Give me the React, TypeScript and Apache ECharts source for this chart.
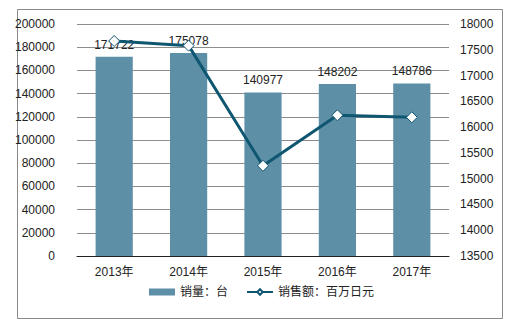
import React, { useEffect, useRef } from "react";
import * as echarts from "echarts";

const categories = ["2013年", "2014年", "2015年", "2016年", "2017年"];
const salesVolume = [171722, 175078, 140977, 148202, 148786];
const salesAmount = [17670, 17580, 15250, 16230, 16190];
const volumeName = "销量：台";
const amountName = "销售额：百万日元";

const FONT = "'Liberation Sans', Arial, 'Noto Sans CJK SC', sans-serif";

export default function App() {
  const ref = useRef<HTMLDivElement>(null);
  useEffect(() => {
    if (!ref.current) return;
    const chart = echarts.init(ref.current, null, { renderer: "svg" });
    chart.setOption({
      animation: false,
      backgroundColor: "#ffffff",
      textStyle: { fontFamily: FONT },
      graphic: [
        {
          type: "rect",
          shape: { x: 17.5, y: 9.5, width: 485, height: 309 },
          style: { fill: "none", stroke: "#8a8a8a", lineWidth: 1 },
          silent: true,
        },
      ],
      grid: { left: 77, right: 73, top: 24, bottom: 73, containLabel: false },
      legend: {
        bottom: 26,
        left: 144,
        itemGap: 18,
        itemWidth: 26,
        itemHeight: 7,
        textStyle: { fontSize: 12, color: "#222", fontFamily: FONT },
        data: [
          { name: volumeName, icon: "rect" },
          { name: amountName },
        ],
      },
      xAxis: {
        type: "category",
        data: categories,
        axisLine: { lineStyle: { color: "#222", width: 1 } },
        axisTick: { show: false },
        axisLabel: { color: "#222", fontSize: 12, margin: 10, fontFamily: FONT },
      },
      yAxis: [
        {
          type: "value",
          min: 0,
          max: 200000,
          interval: 20000,
          axisLine: { show: false },
          axisTick: { show: false },
          splitLine: { lineStyle: { color: "#8c8c8c", width: 1 } },
          axisLabel: {
            color: "#222",
            fontSize: 12,
            margin: 22,
            fontFamily: FONT,
            formatter: (v: number) => String(v),
          },
        },
        {
          type: "value",
          min: 13500,
          max: 18000,
          interval: 500,
          axisLine: { show: false },
          axisTick: { show: false },
          splitLine: { show: false },
          axisLabel: {
            color: "#222",
            fontSize: 12,
            margin: 11,
            fontFamily: FONT,
            formatter: (v: number) => String(v),
          },
        },
      ],
      series: [
        {
          name: volumeName,
          type: "bar",
          data: salesVolume,
          barWidth: "50%",
          itemStyle: { color: "#5D8FA7" },
          label: {
            show: true,
            position: "top",
            distance: 6,
            color: "#222",
            fontSize: 12,
            fontFamily: FONT,
          },
        },
        {
          name: amountName,
          type: "line",
          yAxisIndex: 1,
          data: salesAmount,
          symbol: "diamond",
          symbolSize: 11,
          lineStyle: { color: "#0F5670", width: 3 },
          itemStyle: { color: "#ffffff", borderColor: "#0F5670", borderWidth: 1 },
        },
      ],
    });
    return () => chart.dispose();
  }, []);
  return (
    <div
      ref={ref}
      style={{ position: "absolute", left: 0, top: 0, width: 522, height: 329 }}
    />
  );
}
